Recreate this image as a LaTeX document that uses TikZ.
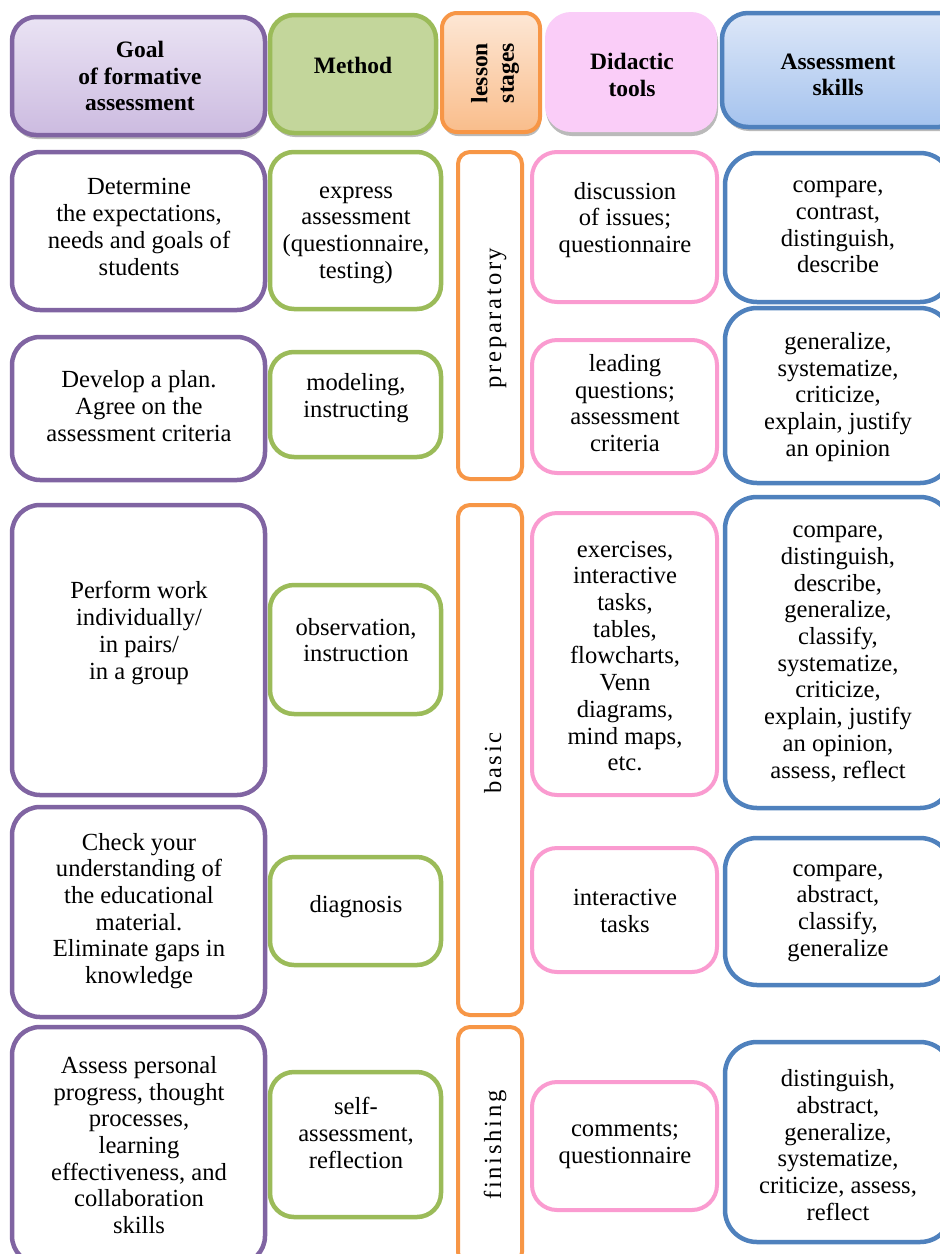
\documentclass[tikz,border=0pt]{standalone}
\usepackage{fontspec}
\setmainfont{Liberation Serif}
\usetikzlibrary{shadows}

\definecolor{cPurple}{HTML}{8064A2}
\definecolor{cGreen}{HTML}{9BBB59}
\definecolor{cOrange}{HTML}{F79646}
\definecolor{cPink}{HTML}{FA9BD0}
\definecolor{cBlue}{HTML}{4F81BD}
\definecolor{hPurpleTop}{HTML}{EAE3F4}
\definecolor{hPurpleBot}{HTML}{CCBBE0}
\definecolor{hGreen}{HTML}{C3D69B}
\definecolor{hOrangeTop}{HTML}{FDE7D5}
\definecolor{hOrangeBot}{HTML}{F9BD8B}
\definecolor{hPink}{HTML}{FACDF8}
\definecolor{hBlueTop}{HTML}{DDE7F8}
\definecolor{hBlueBot}{HTML}{A5C3EE}

% a framed cell given by its corners: style, name, x1, y1, x2, y2
\newcommand\cell[6]{%
  \node[#1, minimum width={#5-#3}, minimum height={#6-#4}] (#2)
    at ({(#3+#5)/2},{(#4+#6)/2}) {};}

\begin{document}
\begin{tikzpicture}[x=1pt, y=-1pt,
  base/.style={inner sep=0pt, outer sep=0pt, line width=4.5pt, rounded corners=26pt},
  goalbox/.style={base, draw=cPurple, rounded corners=28pt},
  methodbox/.style={base, draw=cGreen, rounded corners=24pt},
  stagebox/.style={base, draw=cOrange, line width=4pt, rounded corners=12pt},
  toolbox/.style={base, draw=cPink, line width=4pt, rounded corners=25pt},
  skillbox/.style={base, draw=cBlue, rounded corners=32pt},
  headshadow/.style={drop shadow={shadow xshift=1pt, shadow yshift=-4pt, opacity=0.45, fill=black!60}},
  txt/.style={align=center, inner sep=0pt, font=\fontsize{24.6}{26.7}\selectfont},
  htxt/.style={align=center, inner sep=0pt, font=\bfseries\fontsize{23.5}{26.5}\selectfont},
  vtxt/.style={rotate=90, anchor=base, inner sep=0pt,
    font=\fontsize{24.6}{26.7}\selectfont\addfontfeatures{LetterSpace=11}}]

\useasboundingbox (0,0) rectangle (940,1254);
\fill[white] (0,0) rectangle (940,1254);
\clip (0,0) rectangle (940,1254);

% ---------- header row ----------
\cell{goalbox, rounded corners=24pt, headshadow, top color=hPurpleTop, bottom color=hPurpleBot}{hGoal}{12}{17}{265}{135}
\cell{methodbox, headshadow, fill=hGreen}{hMethod}{270}{15}{436}{133}
\cell{stagebox, rounded corners=15pt, headshadow, top color=hOrangeTop, bottom color=hOrangeBot}{hStage}{442}{13}{540}{132}
\cell{base, headshadow, fill=hPink}{hTools}{545}{12}{717}{132}
\cell{skillbox, rounded corners=26pt, headshadow, top color=hBlueTop, bottom color=hBlueBot}{hSkills}{722}{13}{965}{127}

\node[htxt] (tGoal) at (140,76) {Goal\\of formative\\assessment};
\node[htxt] (tMethod) at (353,65) {Method};
\node[htxt, rotate=90] (tStage) at (495,73) {lesson\\stages};
\node[htxt] (tTools) at (632,75) {Didactic\\tools};
\node[htxt] (tSkills) at (838,75) {Assessment\\skills};

% ---------- goals of formative assessment ----------
\cell{goalbox}{g1}{12}{152}{265}{310}
\cell{goalbox}{g2}{12}{337}{265}{480}
\cell{goalbox}{g3}{12}{505}{265}{795}
\cell{goalbox}{g4}{12}{807}{265}{1017}
\cell{goalbox}{g5}{12}{1027}{265}{1264}

\node[txt] (tg1) at (139,227) {Determine\\the expectations,\\needs and goals of\\students};
\node[txt] (tg2) at (139,406) {Develop a plan.\\Agree on the\\assessment criteria};
\node[txt] (tg3) at (139,633) {Perform work\\individually/\\in pairs/\\in a group};
\node[txt] (tg4) at (139,911) {Check your\\understanding of\\the educational\\material.\\Eliminate gaps in\\knowledge};
\node[txt] (tg5) at (139,1145) {Assess personal\\progress, thought\\processes,\\learning\\effectiveness, and\\collaboration\\skills};

% ---------- methods ----------
\cell{methodbox}{m1}{270}{152}{441}{309}
\cell{methodbox}{m2}{270}{352}{441}{457}
\cell{methodbox}{m3}{270}{585}{441}{714}
\cell{methodbox}{m4}{270}{857}{441}{965}
\cell{methodbox}{m5}{270}{1072}{441}{1217}

\node[txt] (tm1) at (356,235) {express\\assessment\\(questionnaire,\\testing)};
\node[txt] (tm2) at (356,398) {modeling,\\instructing};
\node[txt] (tm3) at (356,640) {observation,\\instruction};
\node[txt] (tm4) at (356,907) {diagnosis};
\node[txt] (tm5) at (356,1133) {self-\\assessment,\\reflection};

% ---------- lesson stages ----------
\cell{stagebox}{s1}{458}{152}{522}{479}
\cell{stagebox}{s2}{458}{505}{522}{1015}
\cell{stagebox}{s3}{458}{1027}{522}{1264}

\node[vtxt] (ts1) at (501,318) {preparatory};
\node[vtxt] (ts2) at (501,763) {basic};
\node[vtxt] (ts3) at (501,1145) {finishing};

% ---------- didactic tools ----------
\cell{toolbox}{d1}{532}{152}{717}{302}
\cell{toolbox}{d2}{532}{340}{717}{473}
\cell{toolbox}{d3}{532}{513}{717}{795}
\cell{toolbox}{d4}{532}{848}{717}{972}
\cell{toolbox}{d5}{532}{1082}{717}{1210}

\node[txt] (td1) at (625,220) {discussion\\of issues;\\questionnaire};
\node[txt] (td2) at (625,403) {leading\\questions;\\assessment\\criteria};
\node[txt] (td3) at (625,656) {exercises,\\interactive\\tasks,\\tables,\\flowcharts,\\Venn\\diagrams,\\mind maps,\\etc.};
\node[txt] (td4) at (625,911) {interactive\\tasks};
\node[txt] (td5) at (625,1146) {comments;\\questionnaire};

% ---------- assessment skills ----------
\cell{skillbox}{a1}{725}{153}{952}{302}
\cell{skillbox}{a2}{725}{308}{952}{483}
\cell{skillbox}{a3}{725}{497}{952}{808}
\cell{skillbox}{a4}{725}{838}{952}{985}
\cell{skillbox}{a5}{725}{1042}{952}{1242}

\node[txt] (ta1) at (838,227) {compare,\\contrast,\\distinguish,\\describe};
\node[txt] (ta2) at (838,397) {generalize,\\systematize,\\criticize,\\explain, justify\\an opinion};
\node[txt] (ta3) at (838,654) {compare,\\distinguish,\\describe,\\generalize,\\classify,\\systematize,\\criticize,\\explain, justify\\an opinion,\\assess, reflect};
\node[txt] (ta4) at (838,913) {compare,\\abstract,\\classify,\\generalize};
\node[txt] (ta5) at (838,1145) {distinguish,\\abstract,\\generalize,\\systematize,\\criticize, assess,\\reflect};

\end{tikzpicture}
\end{document}
